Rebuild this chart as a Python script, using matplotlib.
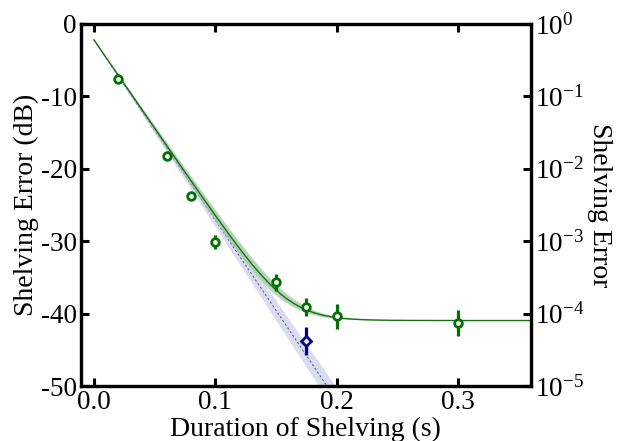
import numpy as np
import matplotlib
matplotlib.use("Agg")
import matplotlib.pyplot as plt

plt.rcParams['font.family'] = ['Liberation Serif', 'DejaVu Serif']
plt.rcParams['mathtext.fontset'] = 'custom'
plt.rcParams['mathtext.rm'] = 'Liberation Serif'
plt.rcParams['mathtext.it'] = 'Liberation Serif:italic'

# Measured shelving error (dB)
t_green = [0.02, 0.06, 0.08, 0.10, 0.15, 0.175, 0.20, 0.30]
err_green = [-7.65, -18.3, -23.7, -30.1, -35.7, -39.1, -40.4, -41.3]
sig_green = [0.3, 0.4, 0.5, 1.0, 1.2, 1.25, 1.7, 1.85]

t_blue = [0.175]
err_blue = [-43.8]
sig_blue = [1.95]

# Fit parameters (dB model: exponential decay + floor)
fit_intercept_db = -2.2
green_slope = -244.0      # dB/s
green_slope_sig = 8.0
green_floor_db = -40.96
blue_slope = -249.0
blue_slope_sig = 9.0

xticks = [0.0, 0.1, 0.2, 0.3]
yticks_db = [0, -10, -20, -30, -40, -50]
yticks_log = [1e0, 1e-1, 1e-2, 1e-3, 1e-4, 1e-5]
ylog_labels = ['10$^{0}$', '10$^{-1}$', '10$^{-2}$', '10$^{-3}$', '10$^{-4}$', '10$^{-5}$']

fig = plt.figure(figsize=(6.18, 4.41), dpi=100)
ax = fig.add_axes([0.131, 0.1247, 0.728, 0.821])

tt = np.linspace(0.0, 0.36, 400)

def green_model(slope):
    p = 10 ** ((fit_intercept_db + slope * tt) / 10) + 10 ** (green_floor_db / 10)
    return 10 * np.log10(p)

g = green_model(green_slope)
g_lo = green_model(green_slope - green_slope_sig)
g_hi = green_model(green_slope + green_slope_sig)

b = fit_intercept_db + blue_slope * tt
b_lo = fit_intercept_db + (blue_slope - blue_slope_sig) * tt
b_hi = fit_intercept_db + (blue_slope + blue_slope_sig) * tt

ax.fill_between(tt, b_lo, b_hi, color='#dcdcef', lw=0, zorder=1)
ax.plot(tt, b, color='#5a5ab0', lw=0.8, ls=(0, (2, 2)), zorder=2)
ax.fill_between(tt, g_lo, g_hi, color='#9cc89c', alpha=0.75, lw=0, zorder=3)
ax.plot(tt, g, color='#1a6e1a', lw=1.0, zorder=4)

ax.errorbar(t_green, err_green, yerr=sig_green, fmt='o', color='#007000',
            mfc='white', mec='#007000', ms=5.5, mew=2.0, elinewidth=2.3,
            capsize=0, zorder=5)
ax.errorbar(t_blue, err_blue, yerr=sig_blue, fmt='D', color='#00008b',
            mfc='white', mec='#00008b', ms=5.5, mew=2.0, elinewidth=2.3,
            capsize=0, zorder=5)

ax.set_xlim(-0.0107, 0.36)
ax.set_ylim(-50, 0)
ax.set_xticks(xticks)
ax.set_xticklabels([f'{v:.1f}' for v in xticks])
ax.set_yticks(yticks_db)
ax.set_yticklabels([str(v) for v in yticks_db])
ax.tick_params(axis='both', direction='in', length=5.5, width=2.2, labelsize=19.5,
               top=True, right=False, pad=3)
for s in ax.spines.values():
    s.set_linewidth(2.3)
ax.set_xlabel('Duration of Shelving (s)', fontsize=20, labelpad=1)
ax.set_ylabel('Shelving Error (dB)', fontsize=20, labelpad=1)

ax2 = ax.twinx()
ax2.set_yscale('log')
ax2.set_ylim(1e-5, 1e0)
ax2.set_yticks(yticks_log)
ax2.set_yticklabels(ylog_labels)
ax2.yaxis.set_minor_locator(matplotlib.ticker.NullLocator())
ax2.tick_params(axis='y', direction='in', length=5.5, width=2.2, labelsize=19.5, pad=3)
for s in ax2.spines.values():
    s.set_linewidth(2.3)
ax2.set_ylabel('Shelving Error', fontsize=20, rotation=270, labelpad=20)

fig.savefig('out.png', dpi=100)
